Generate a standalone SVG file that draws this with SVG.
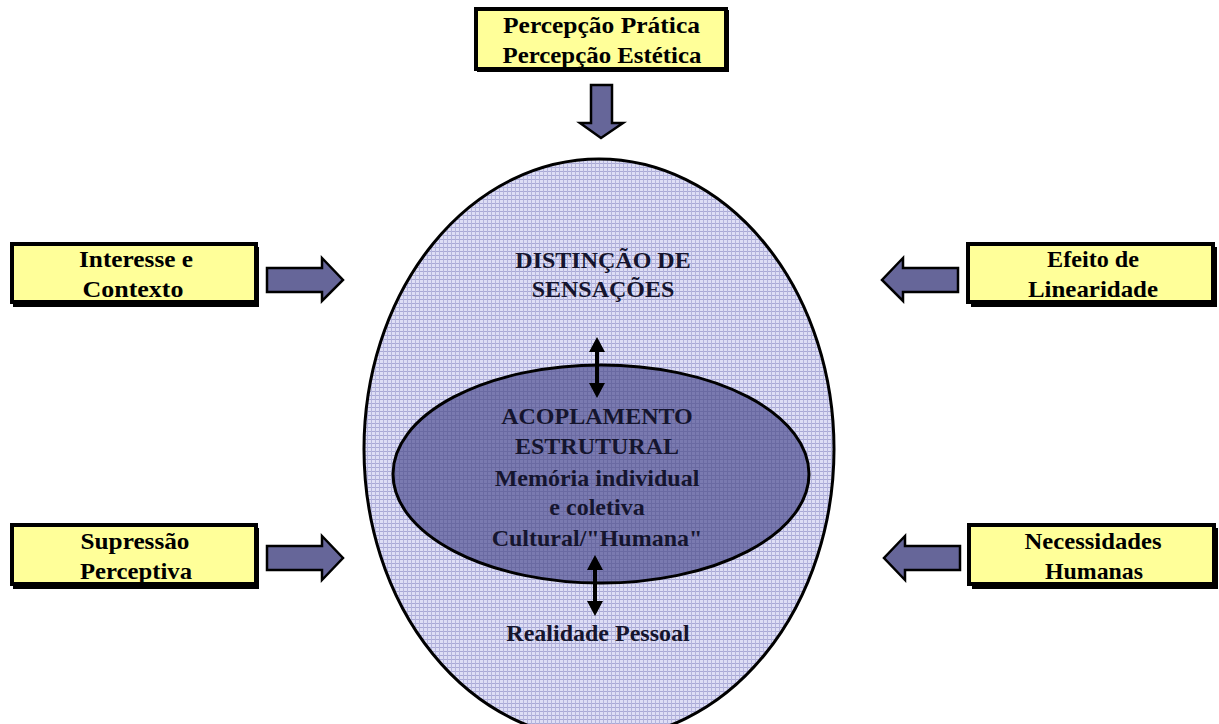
<svg xmlns="http://www.w3.org/2000/svg" width="1219" height="724" viewBox="0 0 1219 724">
<style>
.box{fill:#FFFF99;stroke:#000;stroke-width:4}
.shadow{fill:#000}
.blk{fill:#666699;stroke:#000;stroke-width:2.5;stroke-linejoin:miter}
.t{font-family:"Liberation Serif","Times New Roman",serif;font-weight:bold;font-size:22.5px;text-anchor:middle;fill:#000}
.e{font-family:"Liberation Serif","Times New Roman",serif;font-weight:bold;font-size:24px;text-anchor:middle;fill:#15152e}
.dbl{fill:#000}
</style>
<defs>
<pattern id="pOuter" width="4" height="4" patternUnits="userSpaceOnUse">
<rect width="4" height="4" fill="#dedef5"/>
<rect x="0" y="3" width="4" height="1" fill="#a9a9d6"/>
<rect x="3" y="0" width="1" height="4" fill="#b4b4dc"/>
</pattern>
<pattern id="pInner" width="4" height="4" patternUnits="userSpaceOnUse">
<rect width="4" height="4" fill="#7a7ab0"/>
<rect x="0" y="3" width="4" height="1" fill="#6a6aa2"/>
<rect x="3" y="0" width="1" height="4" fill="#6a6aa2"/>
</pattern>
</defs>
<rect width="1219" height="724" fill="#fff"/>

<g id="outer">
<ellipse cx="599" cy="449" rx="235" ry="290" fill="url(#pOuter)" stroke="#000" stroke-width="3"/>
<text class="e" x="603" y="268">DISTINÇÃO DE</text>
<text class="e" x="603" y="297">SENSAÇÕES</text>
<text class="e" x="598" y="641">Realidade Pessoal</text>
</g>

<g id="inner">
<ellipse cx="601" cy="474" rx="208" ry="109" fill="url(#pInner)" stroke="#000" stroke-width="3"/>
<text class="e" x="597" y="424">ACOPLAMENTO</text>
<text class="e" x="597" y="454">ESTRUTURAL</text>
<text class="e" x="597" y="486">Memória individual</text>
<text class="e" x="597" y="515">e coletiva</text>
<text class="e" x="597" y="546">Cultural/"Humana"</text>
</g>

<g id="top">
<rect class="shadow" x="477" y="10" width="252" height="62"/>
<rect class="box" x="476" y="9" width="250" height="60"/>
<text class="t" x="601.5" y="33" textLength="197" lengthAdjust="spacingAndGlyphs">Percepção Prática</text>
<text class="t" x="602" y="63" textLength="199" lengthAdjust="spacingAndGlyphs">Percepção Estética</text>
</g>

<g id="interesse">
<rect class="shadow" x="13" y="247" width="246" height="60"/>
<rect class="box" x="12" y="244" width="244" height="58"/>
<text class="t" x="136" y="267" textLength="114" lengthAdjust="spacingAndGlyphs">Interesse e</text>
<text class="t" x="133" y="297" textLength="101" lengthAdjust="spacingAndGlyphs">Contexto</text>
</g>

<g id="efeito">
<rect class="shadow" x="971" y="247" width="246" height="60"/>
<rect class="box" x="968" y="244" width="245" height="58"/>
<text class="t" x="1093" y="267" textLength="92" lengthAdjust="spacingAndGlyphs">Efeito de</text>
<text class="t" x="1093" y="297" textLength="130" lengthAdjust="spacingAndGlyphs">Linearidade</text>
</g>

<g id="supressao">
<rect class="shadow" x="13" y="528" width="246" height="61"/>
<rect class="box" x="12" y="525" width="244" height="59"/>
<text class="t" x="135" y="549" textLength="109" lengthAdjust="spacingAndGlyphs">Supressão</text>
<text class="t" x="136" y="579" textLength="112" lengthAdjust="spacingAndGlyphs">Perceptiva</text>
</g>

<g id="necessidades">
<rect class="shadow" x="972" y="528" width="246" height="61"/>
<rect class="box" x="969" y="525" width="245" height="59"/>
<text class="t" x="1093" y="549" textLength="137" lengthAdjust="spacingAndGlyphs">Necessidades</text>
<text class="t" x="1094" y="579" textLength="98" lengthAdjust="spacingAndGlyphs">Humanas</text>
</g>

<g id="connectors">
<polygon class="blk" points="591,85 612,85 612,123 623,123 601,138 580,123 591,123"/>
<polygon class="blk" points="267,268 322,268 322,258 343,280 322,301 322,292 267,292"/>
<polygon class="blk" points="267,546 322,546 322,536 343,558 322,580 322,570 267,570"/>
<polygon class="blk" points="958,268 903,268 903,258 882,280 903,301 903,292 958,292"/>
<polygon class="blk" points="960,546 905,546 905,536 884,558 905,580 905,570 960,570"/>
<polygon class="dbl" points="597,337 605,352 599,352 599,383 605,383 597,398 589,383 595,383 595,352 589,352"/>
<polygon class="dbl" points="595,555 603,570 597,570 597,601 603,601 595,616 587,601 593,601 593,570 587,570"/>
</g>
</svg>
